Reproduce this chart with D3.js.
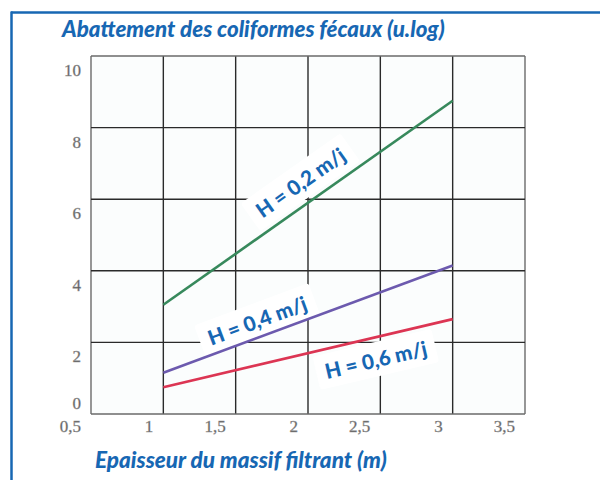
<!DOCTYPE html>
<html>
<head>
<meta charset="utf-8">
<script src="https://cdn.jsdelivr.net/npm/d3@7"></script>
<style>
  html, body { margin: 0; padding: 0; background: #ffffff; }
  svg { display: block; }
  .tick-label { font-family: 'Liberation Serif', 'Times New Roman', 'DejaVu Serif', serif; }
</style>
</head>
<body>
<div id="chart"></div>
<script>
// ---- data ----
const xTicks = [0.5, 1, 1.5, 2, 2.5, 3, 3.5];
const xTickLabels = ["0,5", "1", "1,5", "2", "2,5", "3", "3,5"];
const yTicks = [0, 2, 4, 6, 8, 10];
const yTickLabels = ["0", "2", "4", "6", "8", "10"];
const depth = [1, 3];
const h02 = [3.05, 8.75];
const h04 = [1.15, 4.15];
const h06 = [0.75, 2.65];
const seriesNames = ["H = 0,2 m/j", "H = 0,4 m/j", "H = 0,6 m/j"];
const labelAt = [1.95, 1.65, 2.47];
const title = "Abattement des coliformes fécaux (u.log)";
const xTitle = "Epaisseur du massif filtrant (m)";

// ---- layout ----
const W = 600, H = 480;
const blue = "#1767b3";
const colors = ["#37895c", "#6c5aae", "#dc3553"];
const labelOffset = [-25, -17, 23];

const svg = d3.select("#chart").append("svg").attr("width", W).attr("height", H);

// frame
svg.append("rect").attr("x", 0).attr("y", 0).attr("width", W).attr("height", H).attr("fill", "#ffffff");
svg.append("line").attr("x1", 11).attr("x2", W).attr("y1", 12.5).attr("y2", 12.5)
  .attr("stroke", blue).attr("stroke-width", 2.5);
svg.append("line").attr("x1", 11.5).attr("x2", 11.5).attr("y1", 11.5).attr("y2", H)
  .attr("stroke", blue).attr("stroke-width", 2.5);

const x = d3.scaleLinear().domain([0.5, 3.5]).range([91, 525]);
const y = d3.scaleLinear().domain([0, 10]).range([414, 56]);

// plot background
svg.append("rect").attr("x", x(0.5)).attr("y", y(10)).attr("width", x(3.5) - x(0.5)).attr("height", y(0) - y(10))
  .attr("fill", "#fbfdfd");

// grid
const grid = svg.append("g");
grid.selectAll("line.v").data(xTicks).join("line").attr("class", "v")
  .attr("x1", d => x(d)).attr("x2", d => x(d)).attr("y1", y(10)).attr("y2", y(0))
  .attr("stroke", (d, i) => (i === 0 || i === xTicks.length - 1) ? "#6a6a6a" : "#2a2a2a")
  .attr("stroke-width", 1.4);
grid.selectAll("line.h").data(yTicks).join("line").attr("class", "h")
  .attr("x1", x(0.5)).attr("x2", x(3.5)).attr("y1", d => y(d)).attr("y2", d => y(d))
  .attr("stroke", (d, i) => (i === 0 || i === yTicks.length - 1) ? "#6a6a6a" : "#2a2a2a")
  .attr("stroke-width", 1.4);

// tick labels (offset as in the scanned original)
svg.append("g").selectAll("text").data(xTicks).join("text")
  .attr("class", "tick-label")
  .attr("x", d => x(d) - 10).attr("y", 432)
  .attr("text-anchor", "end")
  .attr("font-size", 17)
  .attr("fill", "#5c5c5c").attr("stroke", "#9a9a9a").attr("stroke-width", 0.4)
  .text((d, i) => xTickLabels[i]);
svg.append("g").selectAll("text").data(yTicks).join("text")
  .attr("class", "tick-label")
  .attr("x", 81).attr("y", d => d === 0 ? y(d) - 11 : y(d) + 14)
  .attr("dy", "0.35em")
  .attr("text-anchor", "end")
  .attr("font-size", 17)
  .attr("fill", "#5c5c5c").attr("stroke", "#9a9a9a").attr("stroke-width", 0.4)
  .text((d, i) => yTickLabels[i]);

// series
const series = [h02, h04, h06];
const lineGen = d3.line().x((d, i) => x(depth[i])).y(d => y(d));

function interp(vals, xv) {
  const t = (xv - depth[0]) / (depth[1] - depth[0]);
  return vals[0] + t * (vals[1] - vals[0]);
}

// label boxes (behind lines) and texts
const labelLayer = svg.append("g");
const lineLayer = svg.append("g");
const textLayer = svg.append("g");

series.forEach((vals, i) => {
  lineLayer.append("path").datum(vals).attr("d", lineGen)
    .attr("fill", "none").attr("stroke", colors[i]).attr("stroke-width", 2.6);

  const px0 = x(depth[0]), py0 = y(vals[0]), px1 = x(depth[1]), py1 = y(vals[1]);
  const ang = Math.atan2(py1 - py0, px1 - px0) * 180 / Math.PI;
  const cx = x(labelAt[i]);
  const cy = y(interp(vals, labelAt[i])) + labelOffset[i];

  const gt = textLayer.append("g").attr("transform", `translate(${cx},${cy}) rotate(${ang})`);
  const t = gt.append("text").attr("text-anchor", "middle").attr("dy", "0.35em")
    .attr("font-family", "Lato, 'Open Sans', sans-serif").attr("font-weight", 900)
    .attr("font-size", 18).attr("fill", blue).text(seriesNames[i]);
  const w0 = t.node().getComputedTextLength();
  t.attr("font-size", 18 * 104 / w0);
  const bb = t.node().getBBox();
  labelLayer.append("g").attr("transform", `translate(${cx},${cy}) rotate(${ang})`)
    .append("rect").attr("x", bb.x - 9).attr("y", bb.y - 5).attr("width", bb.width + 18).attr("height", bb.height + 10)
    .attr("rx", 3).attr("fill", "#ffffff");
});

// titles
function fitText(sel, targetW) {
  const w = sel.node().getComputedTextLength();
  const fs = +sel.attr("font-size");
  sel.attr("font-size", fs * targetW / w);
}
const tt = svg.append("text").attr("x", 62).attr("y", 37)
  .attr("font-family", "Lato, 'Open Sans', sans-serif").attr("font-weight", 900).attr("font-style", "italic")
  .attr("font-size", 19).attr("fill", blue).text(title);
fitText(tt, 383);
const xt = svg.append("text").attr("x", 95).attr("y", 468)
  .attr("font-family", "Lato, 'Open Sans', sans-serif").attr("font-weight", 900).attr("font-style", "italic")
  .attr("font-size", 19).attr("fill", blue).text(xTitle);
fitText(xt, 292);
</script>
</body>
</html>
